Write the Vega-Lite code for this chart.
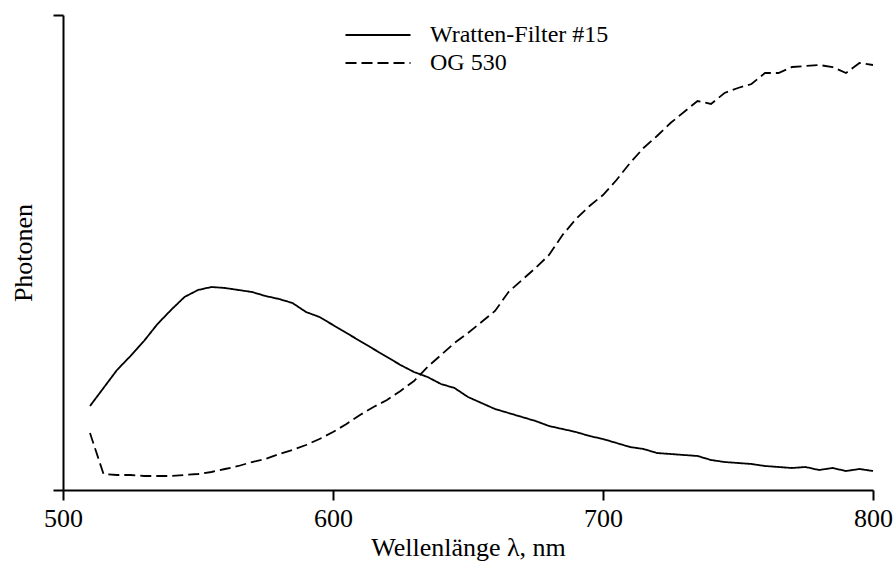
{
  "$schema": "https://vega.github.io/schema/vega-lite/v6.json",
  "autosize": "none",
  "width": 810,
  "height": 475,
  "padding": {"left": 63, "top": 15, "right": 23, "bottom": 73},
  "background": "white",
  "config": {
    "view": {"stroke": null},
    "font": "Liberation Serif",
    "axis": {"grid": false, "domainColor": "black", "tickColor": "black", "domainWidth": 2, "tickWidth": 2, "tickSize": 10, "labelColor": "black", "titleColor": "black", "labelFont": "Liberation Serif", "titleFont": "Liberation Serif", "labelFontSize": 26, "titleFontSize": 26, "titleFontWeight": "normal"}
  },
  "data": {"values": [
    {"wl":510,"v":84,"f":"Wratten-Filter #15"},{"wl":515,"v":102,"f":"Wratten-Filter #15"},{"wl":520,"v":120,"f":"Wratten-Filter #15"},{"wl":525,"v":134,"f":"Wratten-Filter #15"},{"wl":530,"v":149,"f":"Wratten-Filter #15"},{"wl":535,"v":166,"f":"Wratten-Filter #15"},{"wl":540,"v":180,"f":"Wratten-Filter #15"},{"wl":545,"v":193,"f":"Wratten-Filter #15"},{"wl":550,"v":200,"f":"Wratten-Filter #15"},{"wl":555,"v":203,"f":"Wratten-Filter #15"},{"wl":560,"v":202,"f":"Wratten-Filter #15"},{"wl":565,"v":200,"f":"Wratten-Filter #15"},{"wl":570,"v":198,"f":"Wratten-Filter #15"},{"wl":575,"v":194,"f":"Wratten-Filter #15"},{"wl":580,"v":191,"f":"Wratten-Filter #15"},{"wl":585,"v":187,"f":"Wratten-Filter #15"},{"wl":590,"v":178,"f":"Wratten-Filter #15"},{"wl":595,"v":173,"f":"Wratten-Filter #15"},{"wl":600,"v":165,"f":"Wratten-Filter #15"},{"wl":605,"v":157,"f":"Wratten-Filter #15"},{"wl":610,"v":149,"f":"Wratten-Filter #15"},{"wl":615,"v":141,"f":"Wratten-Filter #15"},{"wl":620,"v":133,"f":"Wratten-Filter #15"},{"wl":625,"v":125,"f":"Wratten-Filter #15"},{"wl":630,"v":118,"f":"Wratten-Filter #15"},{"wl":635,"v":113,"f":"Wratten-Filter #15"},{"wl":640,"v":106,"f":"Wratten-Filter #15"},{"wl":645,"v":102,"f":"Wratten-Filter #15"},{"wl":650,"v":93,"f":"Wratten-Filter #15"},{"wl":655,"v":87,"f":"Wratten-Filter #15"},{"wl":660,"v":81,"f":"Wratten-Filter #15"},{"wl":665,"v":77,"f":"Wratten-Filter #15"},{"wl":670,"v":73,"f":"Wratten-Filter #15"},{"wl":675,"v":69,"f":"Wratten-Filter #15"},{"wl":680,"v":64,"f":"Wratten-Filter #15"},{"wl":685,"v":61,"f":"Wratten-Filter #15"},{"wl":690,"v":58,"f":"Wratten-Filter #15"},{"wl":695,"v":54,"f":"Wratten-Filter #15"},{"wl":700,"v":51,"f":"Wratten-Filter #15"},{"wl":705,"v":47,"f":"Wratten-Filter #15"},{"wl":710,"v":43,"f":"Wratten-Filter #15"},{"wl":715,"v":41,"f":"Wratten-Filter #15"},{"wl":720,"v":37,"f":"Wratten-Filter #15"},{"wl":725,"v":36,"f":"Wratten-Filter #15"},{"wl":730,"v":35,"f":"Wratten-Filter #15"},{"wl":735,"v":34,"f":"Wratten-Filter #15"},{"wl":740,"v":30,"f":"Wratten-Filter #15"},{"wl":745,"v":28,"f":"Wratten-Filter #15"},{"wl":750,"v":27,"f":"Wratten-Filter #15"},{"wl":755,"v":26,"f":"Wratten-Filter #15"},{"wl":760,"v":24,"f":"Wratten-Filter #15"},{"wl":765,"v":23,"f":"Wratten-Filter #15"},{"wl":770,"v":22,"f":"Wratten-Filter #15"},{"wl":775,"v":23,"f":"Wratten-Filter #15"},{"wl":780,"v":20,"f":"Wratten-Filter #15"},{"wl":785,"v":22,"f":"Wratten-Filter #15"},{"wl":790,"v":19,"f":"Wratten-Filter #15"},{"wl":795,"v":21,"f":"Wratten-Filter #15"},{"wl":800,"v":19,"f":"Wratten-Filter #15"},
    {"wl":510,"v":57,"f":"OG 530"},{"wl":515,"v":16,"f":"OG 530"},{"wl":520,"v":15,"f":"OG 530"},{"wl":525,"v":15,"f":"OG 530"},{"wl":530,"v":14,"f":"OG 530"},{"wl":535,"v":14,"f":"OG 530"},{"wl":540,"v":14,"f":"OG 530"},{"wl":545,"v":15,"f":"OG 530"},{"wl":550,"v":16,"f":"OG 530"},{"wl":555,"v":18,"f":"OG 530"},{"wl":560,"v":21,"f":"OG 530"},{"wl":565,"v":24,"f":"OG 530"},{"wl":570,"v":28,"f":"OG 530"},{"wl":575,"v":31,"f":"OG 530"},{"wl":580,"v":36,"f":"OG 530"},{"wl":585,"v":40,"f":"OG 530"},{"wl":590,"v":45,"f":"OG 530"},{"wl":595,"v":51,"f":"OG 530"},{"wl":600,"v":58,"f":"OG 530"},{"wl":605,"v":66,"f":"OG 530"},{"wl":610,"v":75,"f":"OG 530"},{"wl":615,"v":83,"f":"OG 530"},{"wl":620,"v":90,"f":"OG 530"},{"wl":625,"v":99,"f":"OG 530"},{"wl":630,"v":109,"f":"OG 530"},{"wl":635,"v":123,"f":"OG 530"},{"wl":640,"v":135,"f":"OG 530"},{"wl":645,"v":147,"f":"OG 530"},{"wl":650,"v":157,"f":"OG 530"},{"wl":655,"v":168,"f":"OG 530"},{"wl":660,"v":179,"f":"OG 530"},{"wl":665,"v":198,"f":"OG 530"},{"wl":670,"v":210,"f":"OG 530"},{"wl":675,"v":222,"f":"OG 530"},{"wl":680,"v":235,"f":"OG 530"},{"wl":685,"v":255,"f":"OG 530"},{"wl":690,"v":271,"f":"OG 530"},{"wl":695,"v":284,"f":"OG 530"},{"wl":700,"v":295,"f":"OG 530"},{"wl":705,"v":310,"f":"OG 530"},{"wl":710,"v":327,"f":"OG 530"},{"wl":715,"v":342,"f":"OG 530"},{"wl":720,"v":354,"f":"OG 530"},{"wl":725,"v":367,"f":"OG 530"},{"wl":730,"v":378,"f":"OG 530"},{"wl":735,"v":389,"f":"OG 530"},{"wl":740,"v":386,"f":"OG 530"},{"wl":745,"v":397,"f":"OG 530"},{"wl":750,"v":402,"f":"OG 530"},{"wl":755,"v":406,"f":"OG 530"},{"wl":760,"v":417,"f":"OG 530"},{"wl":765,"v":417,"f":"OG 530"},{"wl":770,"v":423,"f":"OG 530"},{"wl":775,"v":424,"f":"OG 530"},{"wl":780,"v":425,"f":"OG 530"},{"wl":785,"v":423,"f":"OG 530"},{"wl":790,"v":417,"f":"OG 530"},{"wl":795,"v":427,"f":"OG 530"},{"wl":800,"v":425,"f":"OG 530"}
  ]},
  "mark": {"type": "line", "color": "black", "strokeWidth": 1.8},
  "encoding": {
    "x": {"field": "wl", "type": "quantitative", "scale": {"domain": [500, 800], "nice": false, "zero": false},
      "axis": {"values": [500, 600, 700, 800], "title": "Wellenlänge λ, nm", "labelPadding": 5, "titlePadding": 3, "labelFlush": false}},
    "y": {"field": "v", "type": "quantitative", "scale": {"domain": [0, 475], "nice": false},
      "axis": {"values": [0, 475], "labels": false, "title": "Photonen", "titlePadding": 16}},
    "strokeDash": {"field": "f", "type": "nominal",
      "scale": {"domain": ["Wratten-Filter #15", "OG 530"], "range": [[1, 0], [11, 5]]},
      "legend": {"title": null, "orient": "none", "legendX": 303, "legendY": 8, "symbolType": "M-4,0H4", "symbolSize": 264, "symbolStrokeColor": "black", "symbolStrokeWidth": 1.8, "labelFont": "Liberation Serif", "labelFontSize": 24, "labelColor": "black", "labelOffset": 40, "labelLimit": 400, "rowPadding": 4}}
  }
}
